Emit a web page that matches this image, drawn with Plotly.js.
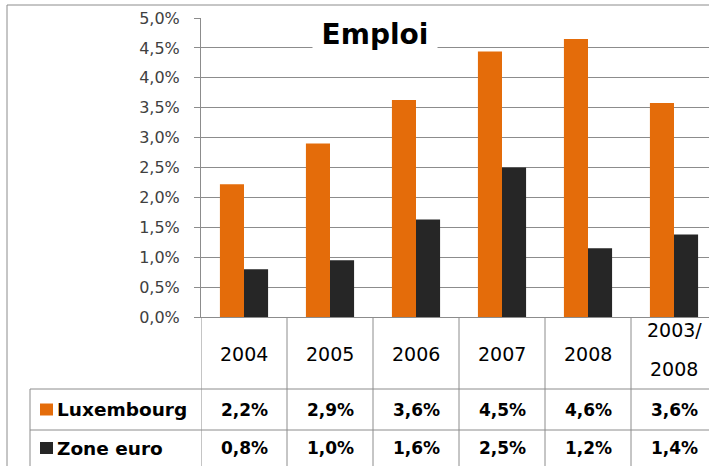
<!DOCTYPE html>
<html>
<head>
<meta charset="utf-8">
<script src="https://cdn.plot.ly/plotly-3.0.1.min.js"></script>
<style>
html,body{margin:0;padding:0;overflow:hidden;background:#fff;}
#chart{width:725px;height:466px;}
</style>
</head>
<body>
<div id="chart"></div>
<script>
// ---- data ----
const categories = ["2004", "2005", "2006", "2007", "2008", "2003/<br>2008"];
const headerLines = [["2004"], ["2005"], ["2006"], ["2007"], ["2008"], ["2003/", "2008"]];
const seriesNames = ["Luxembourg", "Zone euro"];
const luxValues = [2.22, 2.90, 3.63, 4.44, 4.65, 3.58];
const euroValues = [0.80, 0.95, 1.63, 2.50, 1.15, 1.38];
const luxLabels = ["2,2%", "2,9%", "3,6%", "4,5%", "4,6%", "3,6%"];
const euroLabels = ["0,8%", "1,0%", "1,6%", "2,5%", "1,2%", "1,4%"];
const yTicks = [0, 0.5, 1, 1.5, 2, 2.5, 3, 3.5, 4, 4.5, 5];
const yTickText = ["0,0%", "0,5%", "1,0%", "1,5%", "2,0%", "2,5%", "3,0%", "3,5%", "4,0%", "4,5%", "5,0%"];

// ---- style ----
const ORANGE = "#E46C0A";
const DARK = "#262626";
const GRID = "#8C8C8C";
const FONT = "DejaVu Sans";
const W = 725, H = 466;
const M = {l: 201, r: 8, t: 18, b: 149};
const PW = W - M.l - M.r, PH = H - M.t - M.b;
const PB = M.t + PH; // plot bottom in px
const px = v => (v - M.l) / PW;
const py = v => (PB - v) / PH;

const xIdx = categories.map((c, i) => i);

const traces = [
  {type: "bar", x: xIdx, y: luxValues, name: seriesNames[0], marker: {color: ORANGE, line: {width: 0}}},
  {type: "bar", x: xIdx, y: euroValues, name: seriesNames[1], marker: {color: DARK, line: {width: 0}}}
];

const shapes = [];
const annotations = [];
const line = (xref, x0, y0, x1, y1) => shapes.push({type: "line", xref: xref, yref: "paper", x0: x0, y0: y0, x1: x1, y1: y1, line: {color: GRID, width: 1}});

// outer chart border
shapes.push({type: "rect", xref: "paper", yref: "paper", x0: px(7), x1: px(W + 20), y0: py(H + 20), y1: py(5), line: {color: GRID, width: 1}, fillcolor: "rgba(0,0,0,0)", layer: "below"});

// table rows
const rowTop = PB, rowH1 = 389, rowH2 = 430, rowBot = 467;
line("paper", px(30), py(rowH1), px(W + 20), py(rowH1));
line("paper", px(30), py(rowH2), px(W + 20), py(rowH2));
line("paper", px(30), py(rowBot), px(W + 20), py(rowBot));
line("paper", px(30), py(rowH1), px(30), py(rowBot));
for (let k = 0; k <= categories.length; k++) {
  line("x", k - 0.5, py(rowTop), k - 0.5, py(rowBot));
}

// header labels
headerLines.forEach((lines, i) => {
  const n = lines.length;
  lines.forEach((t, j) => {
    const cy = n === 1 ? 354 : (j === 0 ? 330 : 369);
    annotations.push({xref: "x", yref: "paper", x: i, y: py(cy), text: t, showarrow: false,
      xanchor: "center", yanchor: "middle", font: {family: FONT, size: 19, color: "#000"}});
  });
});

// row values
const rows = [{name: seriesNames[0], color: ORANGE, labels: luxLabels, cy: 409.5},
              {name: seriesNames[1], color: DARK, labels: euroLabels, cy: 448}];
rows.forEach(r => {
  r.labels.forEach((t, i) => {
    annotations.push({xref: "x", yref: "paper", x: i, y: py(r.cy), text: "<b>" + t + "</b>", showarrow: false,
      xanchor: "center", yanchor: "middle", font: {family: FONT, size: 17, color: "#000"}});
  });
  shapes.push({type: "rect", xref: "paper", yref: "paper", x0: px(40), x1: px(53), y0: py(r.cy + 6), y1: py(r.cy - 6), fillcolor: r.color, line: {width: 0}});
  annotations.push({xref: "paper", yref: "paper", x: px(55), y: py(r.cy), text: "<b>" + r.name + "</b>", showarrow: false,
    xanchor: "left", yanchor: "middle", font: {family: FONT, size: 18.5, color: "#000"}});
});

// title
annotations.push({xref: "paper", yref: "paper", x: px(375), y: py(34), text: "<b>Emploi</b>", showarrow: false,
  xanchor: "center", yanchor: "middle", width: 122, height: 34, bgcolor: "#fff",
  font: {family: FONT, size: 28, color: "#000"}});

const layout = {
  width: W, height: H,
  margin: M,
  showlegend: false,
  paper_bgcolor: "#fff", plot_bgcolor: "#fff",
  barmode: "group", bargap: 0.44, bargroupgap: 0,
  xaxis: {range: [-0.5, categories.length - 0.5], showticklabels: false, showgrid: false, zeroline: false,
    showline: true, linecolor: GRID, linewidth: 1, ticks: "", fixedrange: true},
  yaxis: {range: [0, 5], tickvals: yTicks, ticktext: yTickText, showgrid: true, gridcolor: GRID, gridwidth: 1,
    zeroline: false, showline: true, linecolor: GRID, linewidth: 1, ticks: "outside", ticklen: 6, tickcolor: GRID,
    ticklabelstandoff: 11, tickfont: {family: FONT, size: 16, color: "#404040"}},
  shapes: shapes,
  annotations: annotations
};

Plotly.newPlot("chart", traces, layout, {displayModeBar: false, staticPlot: true});
</script>
</body>
</html>
